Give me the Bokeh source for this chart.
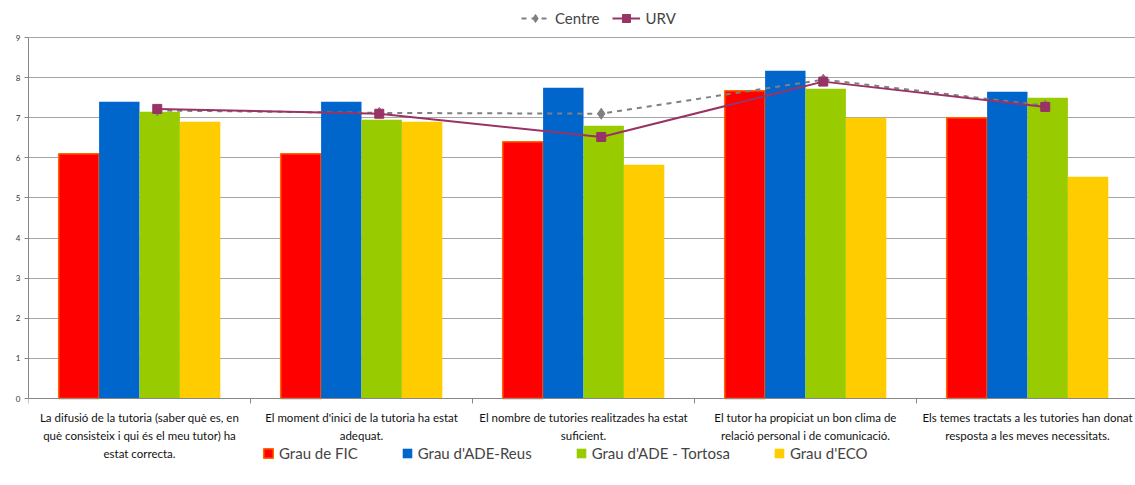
import math
from bokeh.plotting import figure
from bokeh.models import (ColumnDataSource, Range1d, FixedTicker, Legend, LegendItem, Span)
from bokeh.core.properties import value
from bokeh.transform import dodge
from bokeh.embed import file_html
from bokeh.resources import INLINE

categories = [
    "La difusió de la tutoria (saber què es, en\nquè consisteix i qui és el meu tutor) ha\nestat correcta.",
    "El moment d'inici de la tutoria ha estat\nadequat.",
    "El nombre de tutories realitzades ha estat\nsuficient.",
    "El tutor ha propiciat un bon clima de\nrelació personal i de comunicació.",
    "Els temes tractats a les tutories han donat\nresposta a les meves necessitats.",
]
grau_fic = [6.1, 6.1, 6.4, 7.67, 7.0]
grau_ade_reus = [7.4, 7.4, 7.75, 8.17, 7.65]
grau_ade_tortosa = [7.15, 6.95, 6.8, 7.72, 7.5]
grau_eco = [6.9, 6.9, 5.83, 7.0, 5.53]
centre = [7.18, 7.12, 7.1, 7.95, 7.3]
urv = [7.22, 7.1, 6.52, 7.9, 7.27]
y_ticks = list(range(0, 10))

FONT = "Lato"
n = len(categories)
xs = [i + 0.5 for i in range(n)]
src = ColumnDataSource(dict(x=xs, label=categories, fic=grau_fic, reus=grau_ade_reus,
                            tort=grau_ade_tortosa, eco=grau_eco, centre=centre, urv=urv))

W, H = 1135, 485
frame_left = 28
frame_top_px, frame_zero_px = 37, 398          # pixel rows of value 9 and value 0
ppu = (frame_zero_px - frame_top_px) / 9.0
y_start = -(H - frame_zero_px) / ppu
y_end = 9 + frame_top_px / ppu
x_end = (W - frame_left) / 222.0

p = figure(width=W, height=H, output_backend="svg", toolbar_location=None,
           x_range=Range1d(0, x_end), y_range=Range1d(y_start, y_end),
           x_axis_type=None,
           min_border_left=frame_left, min_border_right=0, min_border_top=0, min_border_bottom=0)
p.outline_line_color = None
p.background_fill_color = "white"

# grid
p.xgrid.grid_line_color = None
p.ygrid.ticker = FixedTicker(ticks=y_ticks)
p.ygrid.grid_line_color = "#a6a6a6"
p.ygrid.grid_line_width = 1

# x axis line and boundary ticks
p.add_layout(Span(location=0, dimension="width", line_color="#888888", line_width=1))
p.ray(x=list(range(n + 1)), y=[0] * (n + 1), length=5, length_units="screen",
      angle=-math.pi / 2, line_color="#888888", line_width=1)

bw = 0.182
series = [("fic", "#FF0000", "Grau de FIC"), ("reus", "#0066CC", "Grau d'ADE-Reus"),
          ("tort", "#99CC00", "Grau d'ADE - Tortosa"), ("eco", "#FFCC00", "Grau d'ECO")]
bar_items = []
for k, (col, color, label) in enumerate(series):
    off = (k - 1.5) * bw
    if col == "fic":
        r = p.vbar(x=dodge("x", off, range=p.x_range), top=col, width=bw, source=src,
                   fill_color=color, line_color="#FF6600", line_width=1.5)
    else:
        r = p.vbar(x=dodge("x", off, range=p.x_range), top=col, width=bw, source=src,
                   fill_color=color, line_color=None)
    bar_items.append(LegendItem(label=label, renderers=[r]))

loff = 0.08
cl = p.line(x=dodge("x", loff, range=p.x_range), y="centre", source=src, line_color="#808080",
            line_width=2, line_dash="5 5")
cs = p.scatter(x=dodge("x", loff, range=p.x_range), y="centre", source=src, marker="diamond",
               size=11, fill_color="#808080", line_color="#808080")
ul = p.line(x=dodge("x", loff, range=p.x_range), y="urv", source=src, line_color="#993366",
            line_width=2)
us = p.scatter(x=dodge("x", loff, range=p.x_range), y="urv", source=src, marker="square",
               size=9, fill_color="#993366", line_color="#993366")

# category labels
p.text(x="x", y=0, text="label", source=src, y_offset=12, text_align="center",
       text_baseline="top", text_font=value(FONT), text_font_size="11.5px",
       text_line_height=1.4, text_color="#111111")

# y axis
ya = p.yaxis[0]
ya.ticker = FixedTicker(ticks=y_ticks)
ya.bounds = (0, 9)
ya.minor_tick_line_color = None
ya.major_tick_in = 0
ya.major_tick_out = 4
ya.major_tick_line_color = "#888888"
ya.axis_line_color = "#888888"
ya.major_label_text_font = FONT
ya.major_label_text_font_size = "8px"
ya.major_label_text_color = "#333333"
ya.major_label_standoff = 4

top_leg = Legend(items=[LegendItem(label="Centre", renderers=[cl, cs]),
                        LegendItem(label="URV", renderers=[ul, us])],
                 orientation="horizontal", location=(493, H - 28),
                 padding=0, margin=0, spacing=12, label_standoff=6,
                 glyph_width=28, glyph_height=20,
                 label_text_font=FONT, label_text_font_size="15px",
                 background_fill_alpha=0, border_line_color=None)
bot_leg = Legend(items=bar_items, orientation="horizontal", location=(234, H - 462),
                 padding=0, margin=0, spacing=43, label_standoff=5,
                 glyph_width=12, glyph_height=12,
                 label_text_font=FONT, label_text_font_size="15px",
                 background_fill_alpha=0, border_line_color=None)
p.add_layout(top_leg)
p.add_layout(bot_leg)

open("out.html", "w").write(file_html(p, INLINE))
